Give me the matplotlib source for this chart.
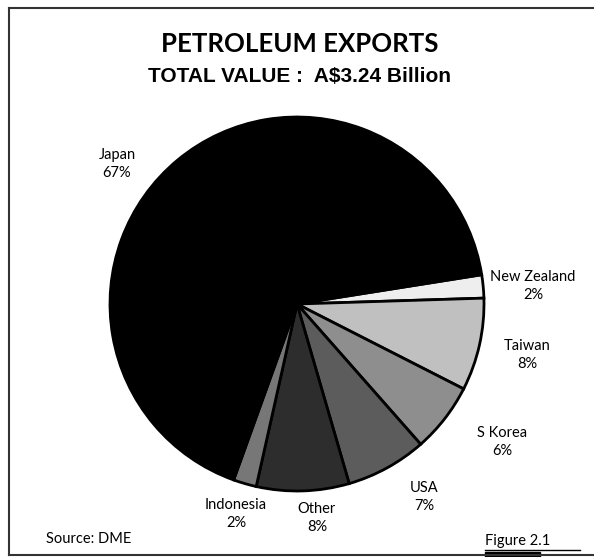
import matplotlib
matplotlib.use("Agg")
import matplotlib.pyplot as plt
from matplotlib.lines import Line2D
from matplotlib.patches import Rectangle

# data (clockwise from New Zealand)
countries = ["New Zealand", "Taiwan", "S Korea", "USA", "Other", "Indonesia", "Japan"]
shares = [2, 8, 6, 7, 8, 2, 67]
colors = ["#eeeeee", "#c0c0c0", "#8e8e8e", "#5c5c5c", "#2d2d2d", "#777777", "#000000"]

# label centres in pixels (x, y from top)
label_pos = [(533, 286), (527, 355), (502, 442), (424, 497), (317, 518), (236, 514), (117, 164)]

W, H = 594, 557
fig = plt.figure(figsize=(W / 100, H / 100), dpi=100)


def fx(x):
    return x / W


def fy(y):
    return 1 - y / H


# pie, centre (297, 304) radius 187 px
cx, cy, r = 297, 304, 187
ax = fig.add_axes([fx(cx - r), fy(cy + r), 2 * r / W, 2 * r / H])
ax.pie(shares, colors=colors, startangle=9, counterclock=False,
       wedgeprops=dict(edgecolor="black", linewidth=2))
ax.set_xlim(-1, 1)
ax.set_ylim(-1, 1)
ax.axis("off")

for name, val, (x, y) in zip(countries, shares, label_pos):
    fig.text(fx(x), fy(y), f"{name}\n{val}%", ha="center", va="center",
             fontsize=10.5, family="Lato", linespacing=1.35)

fig.text(fx(300), fy(44), "PETROLEUM EXPORTS", ha="center", va="center",
         fontsize=18.5, fontweight="bold", family="Lato")
fig.text(fx(300), fy(76), "TOTAL VALUE :  A$3.24 Billion", ha="center", va="center",
         fontsize=15, fontweight="bold", family="Liberation Sans")

fig.text(fx(46), fy(539), "Source: DME", ha="left", va="center", fontsize=10.5, family="Lato")
fig.text(fx(485), fy(541), "Figure 2.1", ha="left", va="center", fontsize=10.5, family="Lato")

# frame: left, top, bottom (no right side)
frame_kw = dict(transform=fig.transFigure, color="#333333", linewidth=1.5)
fig.add_artist(Line2D([fx(9), fx(9)], [fy(8), fy(555)], **frame_kw))
fig.add_artist(Line2D([fx(9), fx(593)], [fy(8), fy(8)], **frame_kw))
fig.add_artist(Line2D([fx(9), fx(593)], [fy(555), fy(555)], **frame_kw))
# figure tag underline and bar
fig.add_artist(Line2D([fx(485), fx(580)], [fy(550), fy(550)], transform=fig.transFigure,
                      color="black", linewidth=1))
fig.add_artist(Rectangle((fx(485), fy(557)), (540 - 485) / W, 5 / H,
                         transform=fig.transFigure, color="black"))

fig.savefig("out.png", dpi=100)
